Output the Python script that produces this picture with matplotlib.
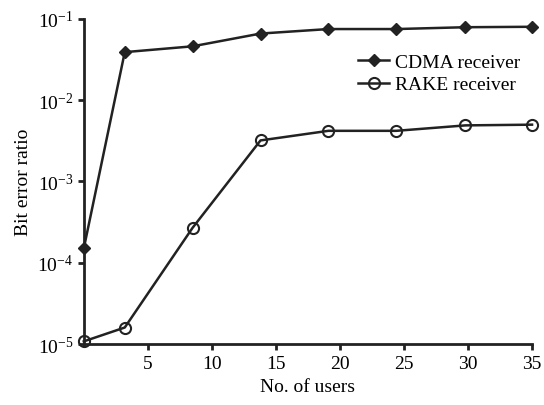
import matplotlib
matplotlib.use("Agg")
import matplotlib.pyplot as plt

users = [0, 3.2, 8.5, 13.8, 19.1, 24.4, 29.8, 35]
cdma_ber = [1.5e-4, 0.039, 0.046, 0.066, 0.075, 0.075, 0.079, 0.080]
rake_ber = [1.08e-5, 1.6e-5, 2.7e-4, 3.2e-3, 4.2e-3, 4.2e-3, 4.9e-3, 5.0e-3]
xticks = [5, 10, 15, 20, 25, 30, 35]

plt.rcParams['font.family'] = ['Liberation Serif', 'DejaVu Serif']
plt.rcParams['mathtext.fontset'] = 'custom'
plt.rcParams['mathtext.rm'] = 'Liberation Serif'
plt.rcParams['mathtext.it'] = 'Liberation Serif:italic'

fig = plt.figure(figsize=(5.44, 4.06), dpi=100)
ax = fig.add_axes([0.154, 0.150, 0.824, 0.801])
c = '#222222'
ax.plot(users, cdma_ber, color=c, lw=1.8, marker='D', ms=6, mfc=c, mec=c, label='CDMA receiver')
ax.plot(users, rake_ber, color=c, lw=1.8, marker='o', ms=8, mfc='none', mec=c, mew=1.5, label='RAKE receiver')
ax.set_yscale('log')
ax.set_xlim(0, 35)
ax.set_ylim(1e-5, 1e-1)
ax.set_xticks(xticks)
ax.minorticks_off()
for s in ['top', 'right']:
    ax.spines[s].set_visible(False)
for s in ['left', 'bottom']:
    ax.spines[s].set_linewidth(2)
    ax.spines[s].set_color(c)
ax.tick_params(axis='both', which='major', direction='out', length=4, width=2, color=c,
               labelsize=14, labelcolor='black')
ax.set_xlabel('No. of users', fontsize=14, labelpad=5)
ax.set_ylabel('Bit error ratio', fontsize=14, labelpad=4)
ax.legend(loc='upper right', bbox_to_anchor=(1.0, 0.93), frameon=False, fontsize=14,
          handlelength=1.6, handletextpad=0.3, borderaxespad=0.2, labelspacing=0.25)
for sp in ax.spines.values():
    sp.set_clip_on(False)
for ln in ax.lines:
    ln.set_clip_on(False)
fig.savefig('out.png', dpi=100)
